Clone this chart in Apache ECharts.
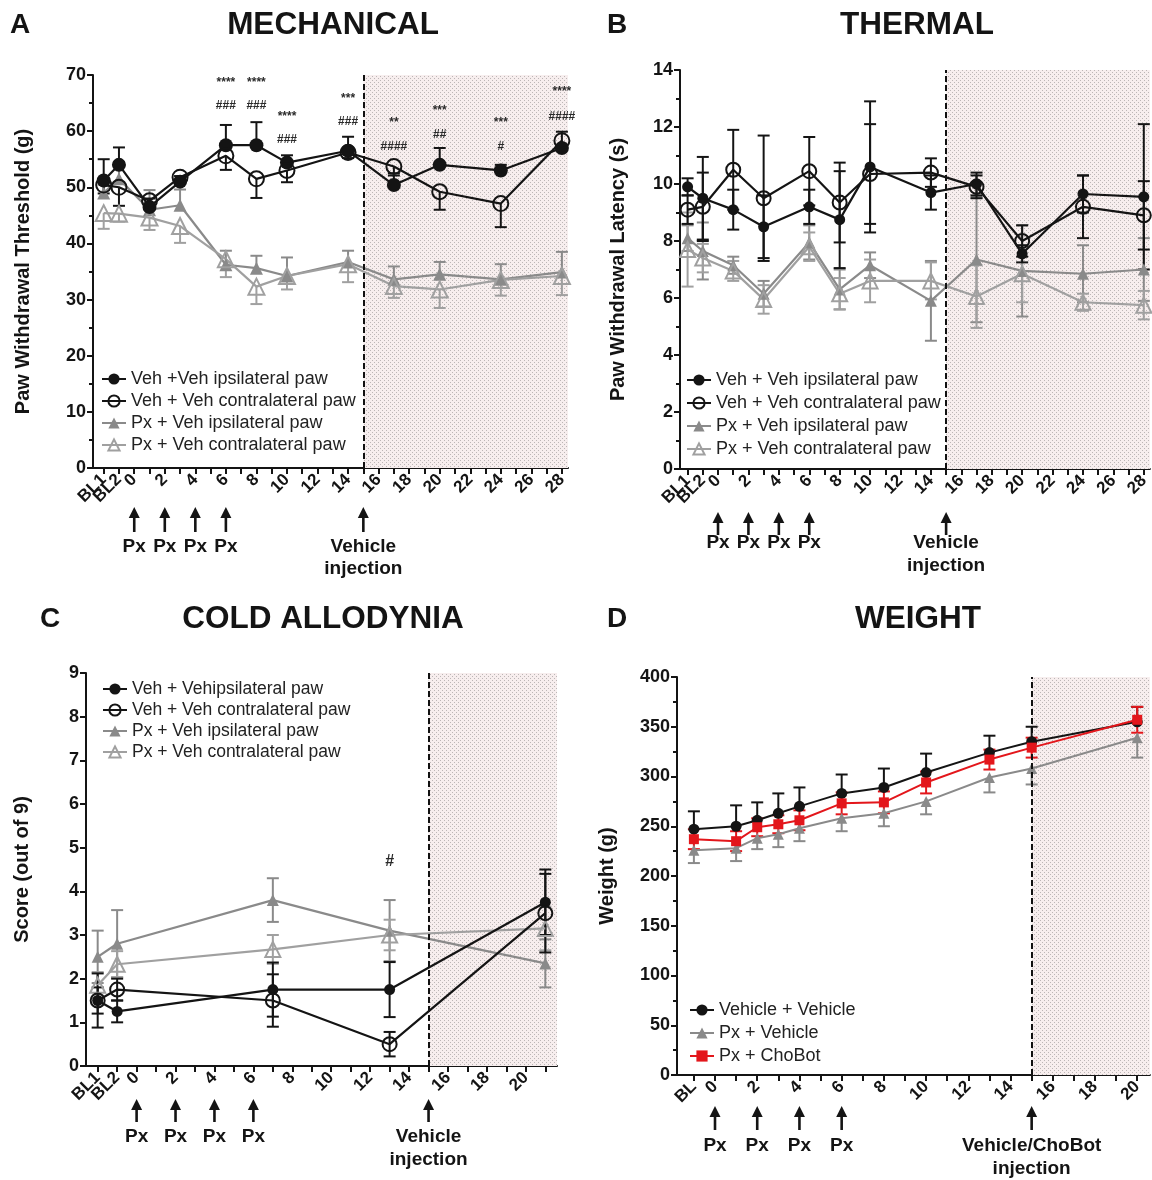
<!DOCTYPE html>
<html>
<head>
<meta charset="utf-8">
<script src="https://cdn.jsdelivr.net/npm/echarts@6.0.0/dist/echarts.min.js"></script>
<style>
  html, body { margin: 0; padding: 0; background: #fff; }
  #chart { width: 1152px; height: 1180px; }
</style>
</head>
<body>
<div id="chart"></div>
<script>
// ---------- x positions (days; BL1 = -2, BL2 = -1, BL = -1 in weight panel) ----------
const daysAB = [-2, -1, 1, 3, 6, 8, 10, 14, 17, 20, 24, 28];
const daysC = [-2, -1, 7, 13, 21];
const daysD = [-1, 1, 2, 3, 4, 6, 8, 10, 13, 15, 20];

// ---------- tick marks and tick labels ----------
const ticksAB = [-2, -1, 0, 1, 2, 3, 4, 5, 6, 7, 8, 9, 10, 11, 12, 13, 14, 15, 16, 17, 18, 19, 20, 21, 22, 23, 24, 25, 26, 27, 28];
const labelValsAB = [-2, -1, 0, 2, 4, 6, 8, 10, 12, 14, 16, 18, 20, 22, 24, 26, 28];
const labelTextAB = ['BL1', 'BL2', '0', '2', '4', '6', '8', '10', '12', '14', '16', '18', '20', '22', '24', '26', '28'];
const ticksC = [-2, -1, 0, 1, 2, 3, 4, 5, 6, 7, 8, 9, 10, 11, 12, 13, 14, 15, 16, 17, 18, 19, 20, 21];
const labelValsC = [-2, -1, 0, 2, 4, 6, 8, 10, 12, 14, 16, 18, 20];
const labelTextC = ['BL1', 'BL2', '0', '2', '4', '6', '8', '10', '12', '14', '16', '18', '20'];
const ticksD = [-1, 0, 1, 2, 3, 4, 5, 6, 7, 8, 9, 10, 11, 12, 13, 14, 15, 16, 17, 18, 19, 20];
const labelValsD = [-1, 0, 2, 4, 6, 8, 10, 12, 14, 16, 18, 20];
const labelTextD = ['BL', '0', '2', '4', '6', '8', '10', '12', '14', '16', '18', '20'];

// ---------- injections ----------
const pxDays = [0, 2, 4, 6];
const pxText = 'Px';
const vehicleDay = 15;
const vehicleText = ['Vehicle', 'injection'];
const vehicleChoBotText = ['Vehicle/ChoBot', 'injection'];

// ---------- A: mechanical (g) ----------
const mechNames = ['Veh +Veh ipsilateral paw', 'Veh + Veh contralateral paw', 'Px + Veh ipsilateral paw', 'Px + Veh contralateral paw'];
const mechVehIpsi = [51.2, 54.0, 46.5, 51.0, 57.5, 57.5, 54.4, 56.5, 50.4, 54.0, 53.0, 57.0];
const mechVehIpsiErr = [3.8, 3.1, 1.5, 1.0, 3.6, 4.1, 1.3, 2.5, 1.7, 3.0, 1.0, 2.9];
const mechVehContra = [50.4, 50.0, 47.6, 51.8, 55.6, 51.5, 53.0, 56.2, 53.7, 49.2, 47.1, 58.3];
const mechVehContraErr = [1.5, 3.3, 1.5, 0.8, 2.5, 3.4, 2.1, 1.0, 1.2, 3.2, 4.2, 1.5];
const mechPxIpsi = [49.0, 51.5, 46.0, 46.8, 36.2, 35.6, 34.2, 36.7, 33.6, 34.5, 33.6, 34.9];
const mechPxIpsiErr = [1.5, 3.0, 3.5, 2.8, 2.5, 2.2, 3.3, 2.0, 2.3, 2.2, 2.7, 3.6];
const mechPxContra = [45.4, 45.3, 44.6, 43.1, 37.2, 32.3, 34.2, 36.3, 32.4, 31.8, 33.5, 34.2];
const mechPxContraErr = [2.8, 1.4, 2.2, 3.0, 3.2, 3.1, 2.4, 3.2, 2.1, 3.3, 2.8, 3.4];
const mechNotes = [
  [6, 68.6, '****'], [6, 64.5, '###'], [8, 68.6, '****'], [8, 64.5, '###'],
  [10, 62.6, '****'], [10, 58.4, '###'], [14, 65.7, '***'], [14, 61.6, '###'],
  [17, 61.5, '**'], [17, 57.2, '####'], [20, 63.6, '***'], [20, 59.3, '##'],
  [24, 61.5, '***'], [24, 57.2, '#'], [28, 67.0, '****'], [28, 62.6, '####']
];

// ---------- B: thermal (s) ----------
const thermNames = ['Veh + Veh ipsilateral paw', 'Veh + Veh contralateral paw', 'Px + Veh ipsilateral paw', 'Px + Veh contralateral paw'];
const thermVehIpsi = [9.9, 9.5, 9.1, 8.5, 9.2, 8.75, 10.6, 9.7, 10.0, 7.55, 9.65, 9.55];
const thermVehIpsiErr = [0.3, 1.45, 0.7, 1.1, 0.6, 1.7, 2.3, 0.6, 0.4, 0.3, 0.65, 2.55];
const thermVehContra = [9.1, 9.2, 10.5, 9.5, 10.45, 9.35, 10.35, 10.4, 9.9, 8.0, 9.2, 8.9];
const thermVehContraErr = [0.5, 1.2, 1.4, 2.2, 1.2, 1.4, 1.75, 0.5, 0.4, 0.55, 1.1, 1.2];
const thermPxIpsi = [8.1, 7.65, 7.15, 6.15, 7.95, 6.3, 7.15, 5.9, 7.35, 6.95, 6.85, 7.0];
const thermPxIpsiErr = [0.45, 1.0, 0.3, 0.45, 0.6, 0.7, 0.45, 1.4, 2.2, 1.6, 1.0, 1.1];
const thermPxContra = [7.7, 7.4, 6.95, 5.95, 7.8, 6.15, 6.6, 6.6, 6.05, 6.85, 5.85, 5.75];
const thermPxContraErr = [1.3, 0.5, 0.35, 0.5, 0.5, 0.55, 0.75, 0.65, 1.1, 1.0, 0.3, 0.5];

// ---------- C: cold allodynia (score out of 9) ----------
const coldNames = ['Veh + Vehipsilateral paw', 'Veh + Veh contralateral paw', 'Px + Veh ipsilateral paw', 'Px + Veh contralateral paw'];
const coldVehIpsi = [1.5, 1.25, 1.75, 1.75, 3.75];
const coldVehIpsiErr = [0.62, 0.25, 0.62, 0.63, 0.75];
const coldVehContra = [1.5, 1.75, 1.5, 0.5, 3.5];
const coldVehContraErr = [0.3, 0.25, 0.6, 0.28, 0.9];
const coldPxIpsi = [2.5, 2.8, 3.8, 3.1, 2.35];
const coldPxIpsiErr = [0.6, 0.77, 0.5, 0.7, 0.55];
const coldPxContra = [1.85, 2.33, 2.67, 3.0, 3.15];
const coldPxContraErr = [0.3, 0.3, 0.33, 0.35, 0.5];
const coldNotes = [[13, 4.67, '#']];

// ---------- D: weight (g) ----------
const weightNames = ['Vehicle + Vehicle', 'Px + Vehicle', 'Px + ChoBot'];
const wVehVeh = [247, 250, 256, 263, 270, 283, 289, 304, 324, 335, 355];
const wVehVehErr = [18, 21, 18, 20, 19, 19, 19, 19, 17, 15, 15];
const wPxVeh = [226, 228, 238, 242, 248, 258, 263, 275, 299, 308, 339];
const wPxVehErr = [13, 13, 11, 13, 13, 13, 13, 13, 15, 16, 20];
const wPxChoBot = [237, 235, 249, 252, 256, 273, 274, 294, 317, 329, 357];
const wPxChoBotErr = [10, 10, 9, 9, 10, 11, 11, 11, 10, 10, 13];

// ---------- styling ----------
const FONT = '"Liberation Sans", Arial, Helvetica, sans-serif';
const INK = '#141414';
const GRAY = '#8a8a8a';
const LIGHT = '#a0a0a0';
const RED = '#e3161b';

// x-axis extents per panel
const xRange = [[-2.7, 28.4], [-2.5, 28.4], [-2.6, 21.6], [-1.8, 20.6]];

function dotPattern() {
  const c = document.createElement('canvas');
  c.width = 4; c.height = 4;
  const g = c.getContext('2d');
  g.fillStyle = '#f7eeee';
  g.fillRect(0, 0, 4, 4);
  g.fillStyle = '#bcb6b6';
  g.fillRect(0, 0, 1, 1);
  g.fillRect(2, 2, 1, 1);
  return c;
}
const shade = dotPattern();

function lineSeries(g, name, xs, ys, st) {
  return {
    type: 'line', name: name, xAxisIndex: g, yAxisIndex: g,
    data: xs.map((x, i) => [x, ys[i]]),
    symbol: st.symbol, symbolSize: st.size,
    itemStyle: st.hollow
      ? { color: 'rgba(255,255,255,0)', borderColor: st.color, borderWidth: st.bw || 2 }
      : { color: st.color, borderColor: st.color, borderWidth: 0 },
    lineStyle: { color: st.color, width: st.lw || 2 },
    emphasis: { disabled: true },
    z: st.z || 3
  };
}

// error bars; dir: 1 = upward only, -1 = downward only, 0 = both
function errSeries(g, xs, ys, es, color, dir, cap, z) {
  return {
    type: 'custom', xAxisIndex: g, yAxisIndex: g, silent: true, z: z || 2,
    data: xs.map((x, i) => [x, ys[i], es[i]]),
    encode: { x: 0, y: 1 },
    renderItem: function (params, api) {
      const x = api.value(0), y = api.value(1), e = api.value(2);
      const pT = api.coord([x, dir >= 0 ? y + e : y]);
      const pB = api.coord([x, dir <= 0 ? y - e : y]);
      const st = { stroke: color, lineWidth: 2 };
      const kids = [{ type: 'line', shape: { x1: pT[0], y1: pT[1], x2: pB[0], y2: pB[1] }, style: st }];
      if (dir >= 0) kids.push({ type: 'line', shape: { x1: pT[0] - cap, y1: pT[1], x2: pT[0] + cap, y2: pT[1] }, style: st });
      if (dir <= 0) kids.push({ type: 'line', shape: { x1: pB[0] - cap, y1: pB[1], x2: pB[0] + cap, y2: pB[1] }, style: st });
      return { type: 'group', children: kids };
    }
  };
}

function noteSeries(g, notes, size) {
  return {
    type: 'custom', xAxisIndex: g, yAxisIndex: g, silent: true, z: 6,
    data: notes.map(n => [n[0], n[1]]),
    encode: { x: 0, y: 1 },
    renderItem: function (params, api) {
      const p = api.coord([api.value(0), api.value(1)]);
      return {
        type: 'text', x: p[0], y: p[1],
        style: { text: notes[params.dataIndex][2], fill: '#2a2a2a', fontFamily: FONT, fontWeight: 'bold',
                 fontSize: size, align: 'center', verticalAlign: 'middle' }
      };
    }
  };
}

// shaded post-injection window and dashed injection line
function phaseSeries(g) {
  return {
    type: 'line', xAxisIndex: g, yAxisIndex: g, silent: true, z: 1,
    data: [[vehicleDay, 0]], symbol: 'none', lineStyle: { width: 0 },
    markArea: { silent: true, itemStyle: { color: { image: shade, repeat: 'repeat' } },
                data: [[{ xAxis: vehicleDay }, { xAxis: xRange[g][1] }]] },
    markLine: { silent: true, symbol: ['none', 'none'], label: { show: false },
                lineStyle: { color: '#111', type: [6, 3], width: 2 },
                data: [{ xAxis: vehicleDay }] }
  };
}

const grids = [
  { left: 93, top: 75, width: 475, height: 393 },
  { left: 680, top: 70, width: 479, height: 399 },
  { left: 86, top: 673, width: 471, height: 393 },
  { left: 677, top: 677, width: 476, height: 398 }
];

function xAxis(g, ticks, labelVals, labelText) {
  const map = {};
  labelVals.forEach((v, i) => { map[v] = labelText[i]; });
  // blank labels at both axis ends keep the crowded BL labels from being dropped
  const shownVals = [xRange[g][0]].concat(labelVals, [xRange[g][1]]);
  return {
    gridIndex: g, type: 'value', min: xRange[g][0], max: xRange[g][1],
    axisLine: { onZero: false, lineStyle: { color: INK, width: 2 } },
    axisTick: { show: true, customValues: ticks, length: 6, lineStyle: { color: INK, width: 2 } },
    axisLabel: { customValues: shownVals, rotate: 45, margin: 9, color: INK, fontFamily: FONT,
                 fontWeight: 'bold', fontSize: 17, hideOverlap: false,
                 formatter: v => (map[v] !== undefined ? map[v] : '') },
    splitLine: { show: false }
  };
}

function yAxis(g, max, interval, minor, name, gap) {
  return {
    gridIndex: g, type: 'value', min: 0, max: max, interval: interval,
    axisLine: { show: true, onZero: false, lineStyle: { color: INK, width: 2 } },
    axisTick: { show: true, length: 6, lineStyle: { color: INK, width: 2 } },
    minorTick: { show: minor, splitNumber: 2, length: 4, lineStyle: { color: INK, width: 2 } },
    axisLabel: { color: INK, fontFamily: FONT, fontWeight: 'bold', fontSize: 18, margin: 7 },
    splitLine: { show: false },
    name: name, nameLocation: 'middle', nameGap: gap,
    nameTextStyle: { color: INK, fontFamily: FONT, fontWeight: 'bold', fontSize: 20 }
  };
}

function legend(names, left, top, gap, fs) {
  return {
    data: names, orient: 'vertical', left: left, top: top, itemGap: gap,
    itemWidth: 24, itemHeight: 14, selectedMode: false, padding: 0,
    textStyle: { color: '#222', fontFamily: FONT, fontSize: fs }
  };
}

const blackFill = (size, z) => ({ symbol: 'circle', size: size, color: INK, lw: 2.2, z: z || 5 });
const blackOpen = (size) => ({ symbol: 'circle', size: size, color: INK, hollow: true, lw: 2.2, z: 5 });
const grayFill = (size) => ({ symbol: 'triangle', size: size, color: GRAY, lw: 2.2, z: 4 });
const grayOpen = (size) => ({ symbol: 'triangle', size: size, color: LIGHT, hollow: true, lw: 2.2, z: 4 });

const series = [
  phaseSeries(0), phaseSeries(1), phaseSeries(2), phaseSeries(3),

  // A
  errSeries(0, daysAB, mechPxIpsi, mechPxIpsiErr, GRAY, 1, 6),
  errSeries(0, daysAB, mechPxContra, mechPxContraErr, LIGHT, -1, 6),
  errSeries(0, daysAB, mechVehIpsi, mechVehIpsiErr, INK, 1, 6, 3),
  errSeries(0, daysAB, mechVehContra, mechVehContraErr, INK, -1, 6, 3),
  lineSeries(0, mechNames[2], daysAB, mechPxIpsi, grayFill(13)),
  lineSeries(0, mechNames[3], daysAB, mechPxContra, grayOpen(16)),
  lineSeries(0, mechNames[0], daysAB, mechVehIpsi, blackFill(14)),
  lineSeries(0, mechNames[1], daysAB, mechVehContra, blackOpen(15)),
  noteSeries(0, mechNotes, 12),

  // B
  errSeries(1, daysAB, thermPxIpsi, thermPxIpsiErr, GRAY, 0, 6),
  errSeries(1, daysAB, thermPxContra, thermPxContraErr, LIGHT, 0, 6),
  errSeries(1, daysAB, thermVehIpsi, thermVehIpsiErr, INK, 0, 6, 3),
  errSeries(1, daysAB, thermVehContra, thermVehContraErr, INK, 0, 6, 3),
  lineSeries(1, thermNames[2], daysAB, thermPxIpsi, grayFill(12)),
  lineSeries(1, thermNames[3], daysAB, thermPxContra, grayOpen(15)),
  lineSeries(1, thermNames[0], daysAB, thermVehIpsi, blackFill(11)),
  lineSeries(1, thermNames[1], daysAB, thermVehContra, blackOpen(14)),

  // C
  errSeries(2, daysC, coldPxIpsi, coldPxIpsiErr, GRAY, 0, 6),
  errSeries(2, daysC, coldPxContra, coldPxContraErr, LIGHT, 0, 6),
  errSeries(2, daysC, coldVehIpsi, coldVehIpsiErr, INK, 0, 6, 3),
  errSeries(2, daysC, coldVehContra, coldVehContraErr, INK, 0, 6, 3),
  lineSeries(2, coldNames[2], daysC, coldPxIpsi, grayFill(12)),
  lineSeries(2, coldNames[3], daysC, coldPxContra, grayOpen(15)),
  lineSeries(2, coldNames[0], daysC, coldVehIpsi, blackFill(11)),
  lineSeries(2, coldNames[1], daysC, coldVehContra, blackOpen(14)),
  noteSeries(2, coldNotes, 16),

  // D
  errSeries(3, daysD, wPxVeh, wPxVehErr, GRAY, -1, 6),
  errSeries(3, daysD, wVehVeh, wVehVehErr, INK, 1, 6, 3),
  errSeries(3, daysD, wPxChoBot, wPxChoBotErr, RED, 0, 6, 3),
  lineSeries(3, weightNames[1], daysD, wPxVeh, { symbol: 'triangle', size: 11, color: GRAY, lw: 2, z: 4 }),
  lineSeries(3, weightNames[0], daysD, wVehVeh, { symbol: 'circle', size: 11, color: INK, lw: 2, z: 5 }),
  lineSeries(3, weightNames[2], daysD, wPxChoBot, { symbol: 'rect', size: 10, color: RED, lw: 2, z: 6 })
];

const chart = echarts.init(document.getElementById('chart'), null, { renderer: 'canvas' });
chart.setOption({
  animation: false,
  backgroundColor: '#fff',
  grid: grids,
  xAxis: [
    xAxis(0, ticksAB, labelValsAB, labelTextAB),
    xAxis(1, ticksAB, labelValsAB, labelTextAB),
    xAxis(2, ticksC, labelValsC, labelTextC),
    xAxis(3, ticksD, labelValsD, labelTextD)
  ],
  yAxis: [
    yAxis(0, 70, 10, true, 'Paw Withdrawal Threshold (g)', 60),
    yAxis(1, 14, 2, true, 'Paw Withdrawal Latency (s)', 52),
    yAxis(2, 9, 1, false, 'Score (out of 9)', 54),
    yAxis(3, 400, 50, true, 'Weight (g)', 60)
  ],
  legend: [
    legend(mechNames, 101, 370, 4, 18),
    legend(thermNames, 686, 371, 5, 18),
    legend(coldNames, 102, 680, 3, 17.5),
    legend(weightNames, 689, 1001, 5, 18)
  ],
  series: series
});

// ---------- titles, panel letters, injection arrows ----------
const headings = [
  { text: 'A', x: 20, y: 25, size: 28 }, { text: 'MECHANICAL', x: 333, y: 25, size: 31.5 },
  { text: 'B', x: 617, y: 25, size: 28 }, { text: 'THERMAL', x: 917, y: 25, size: 31.5 },
  { text: 'C', x: 50, y: 619, size: 28 }, { text: 'COLD ALLODYNIA', x: 323, y: 619, size: 31.5 },
  { text: 'D', x: 617, y: 619, size: 28 }, { text: 'WEIGHT', x: 918, y: 619, size: 31.5 }
];
// vertical offsets below each x axis: arrow tip, arrow tail, first text line, second text line
const arrowLayout = [[39, 64, 79, 101], [43, 66, 74, 97], [33, 56, 71, 94], [31, 55, 71, 94]];

const graphics = [];
function txt(text, x, y, size) {
  graphics.push({ type: 'text', x: x, y: y, silent: true,
    style: { text: text, fill: INK, fontFamily: FONT, fontWeight: 'bold', fontSize: size,
             align: 'center', verticalAlign: 'middle' } });
}
function arrow(x, tip, tail) {
  graphics.push({ type: 'line', silent: true, shape: { x1: x, y1: tail, x2: x, y2: tip + 8 },
    style: { stroke: INK, lineWidth: 2.6 } });
  graphics.push({ type: 'polygon', silent: true,
    shape: { points: [[x, tip], [x - 5.5, tip + 11], [x + 5.5, tip + 11]] }, style: { fill: INK } });
}
headings.forEach(h => txt(h.text, h.x, h.y, h.size));
for (let g = 0; g < 4; g++) {
  const lay = arrowLayout[g];
  const base = chart.convertToPixel({ gridIndex: g }, [0, 0])[1];
  pxDays.forEach(d => {
    const x = chart.convertToPixel({ gridIndex: g }, [d, 0])[0];
    arrow(x, base + lay[0], base + lay[1]);
    txt(pxText, x, base + lay[2], 19);
  });
  const vx = chart.convertToPixel({ gridIndex: g }, [vehicleDay, 0])[0];
  const lines = g === 3 ? vehicleChoBotText : vehicleText;
  arrow(vx, base + lay[0], base + lay[1]);
  txt(lines[0], vx, base + lay[2], 19);
  txt(lines[1], vx, base + lay[3], 19);
}
chart.setOption({ graphic: graphics });
</script>
</body>
</html>
